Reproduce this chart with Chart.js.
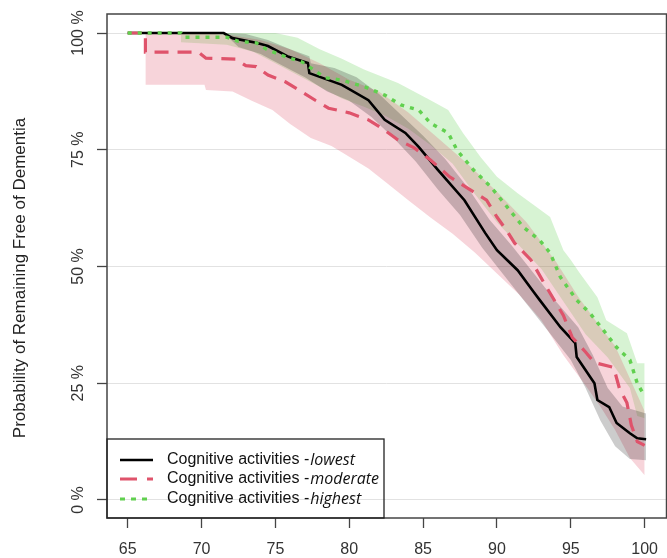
<!DOCTYPE html>
<html>
<head>
<meta charset="utf-8">
<script src="https://cdn.jsdelivr.net/npm/chart.js@4.4.0/dist/chart.umd.min.js"></script>
<style>
  html, body { margin: 0; padding: 0; background: #fff; overflow: hidden; }
  #wrap { position: relative; width: 670px; height: 558px; }
</style>
</head>
<body>
<div id="wrap"><canvas id="km" width="670" height="558"></canvas></div>
<script>
// ages (x) and % free of dementia (y)
const lowestAge = [65, 71.5, 72.1, 73.7, 74.5, 75.9, 77.2, 77.3, 79.5, 81.3, 82.4, 83.8, 84.7, 86, 87.8, 89.2, 90, 91.4, 92.5, 92.9, 94.3, 95.3, 95.4, 96.6, 96.8, 97.6, 98.1, 99, 99.5, 100.1];
const lowestPct = [100, 100, 98.9, 97.9, 97.2, 94.9, 93.6, 91.4, 88.9, 85.6, 81.4, 78.6, 75.6, 70.7, 64.2, 57.2, 53.5, 49.2, 44.5, 42.8, 37, 33.6, 30.6, 25, 21.4, 19.9, 16.5, 14.3, 13.2, 13];

const moderateAge = [65, 66.2, 66.2, 69.8, 70.3, 72.3, 73, 73.7, 74.5, 75.7, 76.6, 77.7, 78.6, 80, 81.3, 82.4, 83.3, 84.4, 85.5, 86.8, 88.2, 89.3, 90, 90.7, 91.2, 92.3, 93.2, 94.5, 95.1, 96, 96.6, 97.9, 98.3, 98.8, 99.1, 99.5, 100];
const moderatePct = [100, 100, 95.9, 95.9, 94.6, 94.4, 93, 92.8, 91, 89.5, 87.8, 85.6, 83.9, 82.9, 81.4, 79.2, 77.1, 75.4, 72.8, 69.2, 66.4, 64.2, 60.6, 57.5, 55, 51.4, 46.4, 39.5, 34.8, 31.7, 29.4, 28.4, 23.8, 20.8, 16, 12.5, 11.7];

const highestAge = [65, 68.6, 68.8, 71.7, 72.5, 73.7, 74.4, 75.7, 76.8, 77.5, 78.4, 79.5, 81.1, 82.4, 83.5, 84.7, 85.5, 86.7, 87.3, 88.4, 89.6, 90.7, 91.8, 92.9, 93.6, 94.3, 95.4, 96.3, 97.2, 98.1, 99, 99.5, 100];
const highestPct = [100, 100, 99.1, 99.1, 98.2, 97.9, 96.5, 94.9, 93.8, 92.3, 90.4, 89.9, 88.4, 86.7, 84.6, 83.5, 80.7, 78.6, 74.9, 70.7, 67, 62.7, 58.4, 55.6, 52.9, 47.7, 42.8, 40, 36.4, 32.7, 30, 25, 22.2];

// confidence band edges
const lowestUpperAge = [71.5, 73, 74.5, 76, 77.3, 77.4, 79, 80.5, 82, 83.5, 85, 86.5, 88, 89.5, 91, 92.5, 94, 95.5, 96.5, 97.5, 98.5, 100.1];
const lowestUpper = [100, 99.8, 98.5, 96.5, 95, 93.5, 92.5, 90.5, 87, 82.5, 78, 73, 67, 60, 54.5, 48.5, 42.5, 37, 31, 24, 20, 18.5];
const lowestLowerAge = [71.5, 72.5, 74, 75.5, 77, 78.5, 80, 81.5, 83, 84.5, 86, 87.5, 89, 90.5, 92, 93.5, 95, 96, 97, 98, 99, 100.1];
const lowestLower = [100, 97, 95.5, 93, 90.5, 87.5, 85.5, 82, 77.5, 72.5, 66.5, 61, 54, 48, 42, 36, 30, 24, 17, 11.5, 8.8, 8.5];

const moderateUpperAge = [66.2, 70, 72, 74, 76, 78, 80, 82, 84, 86, 88, 90, 92, 94, 95.5, 97, 98, 99, 100];
const moderateUpper = [100, 100, 99.5, 98.5, 96.5, 93.5, 90, 87.5, 83, 77.5, 72, 66, 59.5, 51, 43.5, 37, 33, 26, 19];
const moderateLowerAge = [66.2, 70.2, 70.3, 72.1, 73.4, 74.8, 76, 77.4, 78.8, 80, 81.3, 82.5, 84, 85.5, 87, 88.5, 90, 91.5, 93, 94.5, 96, 97, 98, 99, 100];
const moderateLower = [88.9, 88.9, 87.8, 87.5, 85.5, 83.5, 80.5, 77.5, 75.8, 73.5, 71, 68, 64.2, 60.5, 57, 53, 48.5, 44, 38.5, 31, 24.5, 20, 15, 9, 5.3];

const highestUpperAge = [68.6, 75, 76.5, 78, 79.5, 81, 83.3, 85.5, 86.7, 87.7, 88.9, 90, 91.4, 92.7, 93.6, 94.5, 95, 95.6, 96.8, 97.4, 98.8, 99.5, 100];
const highestUpper = [100, 100, 99, 96.5, 94.5, 92.2, 89.3, 85.6, 83.5, 78.6, 73.4, 69.2, 65.7, 62.7, 60.6, 53.5, 51.4, 48.6, 43.4, 38.5, 35.7, 29.3, 29.3];
const highestLowerAge = [68.6, 71.7, 73.5, 75, 76.5, 78, 79.5, 81, 82.5, 84, 85.5, 87, 88.5, 90, 91.5, 93, 94.5, 96, 97.5, 99, 99.5, 100];
const highestLower = [98, 97.5, 96, 93.5, 91, 88.5, 86, 84.2, 82.2, 79.5, 76, 72, 65.5, 59.5, 54.5, 49.5, 42.5, 35.5, 30.5, 24, 18, 17.5];

const groupNames = ['lowest', 'moderate', 'highest'];
const xTicks = [65, 70, 75, 80, 85, 90, 95, 100];
const yTicks = [0, 25, 50, 75, 100];
const yTickLabels = ['0 %', '25 %', '50 %', '75 %', '100 %'];

const FONT = '"Liberation Sans", Arial, sans-serif';

function pts(xs, ys) {
    return xs.map((x, i) => ({ x: x, y: ys[i] }));
}

function band(upAge, up, loAge, lo, color) {
    return [
        { data: pts(upAge, up), borderColor: 'transparent', borderWidth: 0, pointRadius: 0, fill: '+1', backgroundColor: color },
        { data: pts(loAge, lo), borderColor: 'transparent', borderWidth: 0, pointRadius: 0, fill: false }
    ];
}

// axis text, box and legend drawn on top of the chart
const decor = {
    id: 'decor',
    afterDraw(chart) {
        const ctx = chart.ctx;
        const a = chart.chartArea;
        const ys = chart.scales.y;
        ctx.save();
        ctx.strokeStyle = '#444';
        ctx.lineWidth = 1.5;
        ctx.strokeRect(a.left, a.top, a.right - a.left, a.bottom - a.top);

        ctx.fillStyle = '#333';
        ctx.font = '16px ' + FONT;
        ctx.textAlign = 'center';
        ctx.textBaseline = 'middle';
        yTicks.forEach((v, i) => {
            ctx.save();
            ctx.translate(79, ys.getPixelForValue(v));
            ctx.rotate(-Math.PI / 2);
            ctx.fillText(yTickLabels[i], 0, 0);
            ctx.restore();
        });

        ctx.save();
        ctx.fillStyle = '#222';
        ctx.font = '17px ' + FONT;
        ctx.translate(20, 278);
        ctx.rotate(-Math.PI / 2);
        ctx.fillText('Probability of Remaining Free of Dementia', 0, 0);
        ctx.restore();

        // legend
        ctx.strokeStyle = '#222';
        ctx.lineWidth = 1.3;
        ctx.strokeRect(a.left, 439, 277, a.bottom - 439);
        const rows = [460, 479, 499];
        const styles = [
            { c: '#000', w: 2.6, d: [] },
            { c: '#DF536B', w: 3.2, d: [17, 10] },
            { c: '#61D04F', w: 3.2, d: [5, 6] }
        ];
        rows.forEach((yy, i) => {
            ctx.beginPath();
            ctx.strokeStyle = styles[i].c;
            ctx.lineWidth = styles[i].w;
            ctx.setLineDash(styles[i].d);
            ctx.moveTo(120, yy);
            ctx.lineTo(153, yy);
            ctx.stroke();
            ctx.setLineDash([]);
            ctx.fillStyle = '#111';
            ctx.textAlign = 'left';
            ctx.font = '16px ' + FONT;
            const base = 'Cognitive activities ';
            ctx.fillText(base, 167, yy);
            const w = ctx.measureText(base).width;
            ctx.fillText('-', 167 + w, yy);
            const w2 = ctx.measureText('-').width;
            ctx.font = 'italic 16px "Open Sans", ' + FONT;
            ctx.fillText(groupNames[i], 167 + w + w2 + 1, yy);
        });
        ctx.restore();
    }
};

const ctx = document.getElementById('km').getContext('2d');
const chart = new Chart(ctx, {
    type: 'line',
    data: {
        // first dataset is painted last, so "highest" sits on top
        datasets: [
            { label: groupNames[2], data: pts(highestAge, highestPct), borderColor: '#61D04F', borderWidth: 3.4, borderDash: [4, 6], pointRadius: 0, fill: false },
            { label: groupNames[1], data: pts(moderateAge, moderatePct), borderColor: '#DF536B', borderWidth: 3.2, borderDash: [14, 9], pointRadius: 0, fill: false },
            { label: groupNames[0], data: pts(lowestAge, lowestPct), borderColor: '#000', borderWidth: 2.6, pointRadius: 0, fill: false },
            ...band(lowestUpperAge, lowestUpper, lowestLowerAge, lowestLower, 'rgba(0,0,0,0.2)'),
            ...band(moderateUpperAge, moderateUpper, moderateLowerAge, moderateLower, 'rgba(223,83,107,0.25)'),
            ...band(highestUpperAge, highestUpper, highestLowerAge, highestLower, 'rgba(97,208,79,0.25)')
        ]
    },
    options: {
        responsive: false,
        animation: false,
        layout: { padding: { left: 0, top: 14, right: 0, bottom: 0 } },
        plugins: { legend: { display: false }, tooltip: { enabled: false } },
        scales: {
            x: {
                type: 'linear',
                min: 63.6,
                max: 101.48,
                afterBuildTicks: (s) => { s.ticks = xTicks.map(v => ({ value: v })); },
                afterFit: (s) => { s.height = 40; },
                border: { display: false },
                grid: { drawOnChartArea: false, drawTicks: true, tickLength: 10, tickColor: '#444', tickWidth: 1.3 },
                ticks: { color: '#333', font: { family: FONT, size: 16 }, padding: 12, maxRotation: 0 }
            },
            y: {
                type: 'linear',
                min: -3.86,
                max: 104.07,
                afterBuildTicks: (s) => { s.ticks = yTicks.map(v => ({ value: v })); },
                afterFit: (s) => { s.width = 107; },
                border: { display: false },
                grid: { color: '#e2e2e2', lineWidth: 1, drawTicks: true, tickLength: 10, tickColor: '#444', tickWidth: 1.3 },
                ticks: { display: false }
            }
        }
    },
    plugins: [decor]
});
</script>
</body>
</html>
